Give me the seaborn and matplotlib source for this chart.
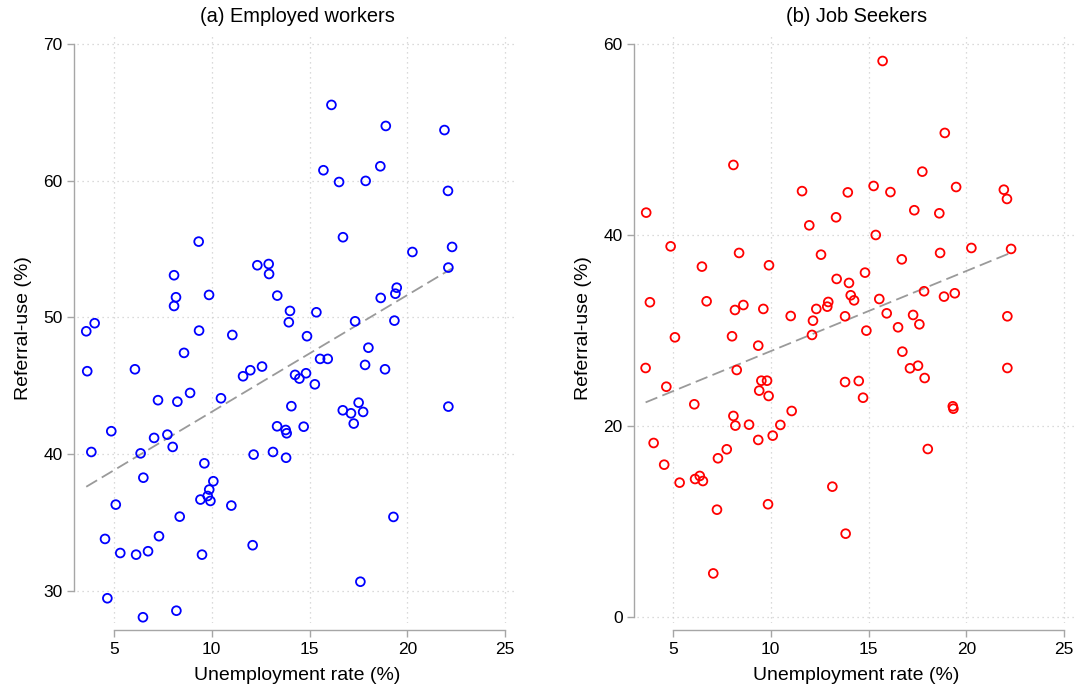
import numpy as np
import pandas as pd
import matplotlib
matplotlib.use("Agg")
import matplotlib.pyplot as plt
import seaborn as sns

# Regional unemployment rate (%) and referral use (%) -- employed workers
emp_unemp = [16.12, 18.90, 21.90, 15.71, 16.51, 17.87, 18.62, 22.08, 9.33, 16.71,
             20.26, 22.29, 22.10, 8.07, 12.33, 12.91, 12.93, 8.17, 8.07, 9.86,
             13.35, 14.00, 13.94, 15.35, 19.46, 19.39, 18.64, 17.33, 19.34, 3.58,
             4.01, 9.35, 11.05, 14.87, 18.01, 8.58, 3.63, 6.07, 15.54, 15.93,
             17.84, 18.86, 12.57, 11.97, 11.60, 14.26, 14.48, 14.82, 15.27, 8.89,
             7.25, 8.24, 10.47, 14.07, 17.51, 16.70, 17.12, 17.74, 17.26, 22.10,
             4.86, 7.05, 7.73, 8.00, 13.34, 13.78, 13.83, 14.70, 3.84, 6.36,
             12.14, 13.13, 13.80, 9.62, 6.50, 10.08, 9.87, 9.79, 9.42, 9.93,
             11.00, 5.09, 8.36, 19.29, 4.54, 7.30, 12.09, 5.32, 6.13, 6.74,
             9.50, 17.60, 4.66, 8.19, 6.48]
emp_referral = [65.54, 64.00, 63.70, 60.76, 59.90, 59.98, 61.05, 59.25, 55.54, 55.86,
                54.78, 55.15, 53.64, 53.08, 53.81, 53.90, 53.17, 51.47, 50.83, 51.64,
                51.59, 50.47, 49.64, 50.37, 52.17, 51.73, 51.42, 49.71, 49.76, 48.98,
                49.57, 49.03, 48.71, 48.62, 47.78, 47.40, 46.06, 46.20, 46.96, 46.96,
                46.52, 46.20, 46.40, 46.13, 45.69, 45.79, 45.52, 45.91, 45.10, 44.47,
                43.94, 43.83, 44.08, 43.50, 43.76, 43.20, 42.98, 43.08, 42.23, 43.47,
                41.67, 41.18, 41.42, 40.52, 42.03, 41.76, 41.52, 42.00, 40.15, 40.05,
                39.96, 40.15, 39.73, 39.32, 38.27, 38.01, 37.40, 36.93, 36.67, 36.57,
                36.23, 36.30, 35.42, 35.40, 33.79, 33.99, 33.33, 32.76, 32.64, 32.89,
                32.64, 30.66, 29.45, 28.54, 28.06]

# Regional unemployment rate (%) and referral use (%) -- job seekers
seek_unemp = [15.72, 18.90, 8.09, 17.75, 15.26, 19.48, 11.60, 13.94, 16.12, 21.92,
              22.08, 3.63, 17.34, 18.62, 13.34, 11.97, 15.37, 4.88, 8.38, 20.26,
              22.29, 12.57, 16.70, 18.66, 6.48, 9.91, 14.82, 13.37, 14.00, 14.09,
              14.26, 17.84, 18.86, 19.41, 3.82, 6.72, 8.17, 8.60, 9.62, 12.94,
              12.89, 12.33, 15.55, 11.02, 12.16, 13.80, 15.93, 17.28, 17.60, 16.51,
              12.11, 14.89, 22.10, 5.10, 8.02, 9.36, 16.73, 3.60, 4.66, 8.26,
              9.52, 9.81, 9.41, 9.89, 13.80, 14.50, 14.72, 17.12, 17.53, 17.87,
              22.10, 6.09, 11.07, 19.31, 19.34, 8.09, 8.19, 8.89, 10.49, 10.10,
              9.36, 4.01, 7.75, 7.30, 18.03, 4.55, 6.13, 6.37, 6.53, 5.34,
              13.15, 7.25, 9.86, 13.83, 7.06]
seek_referral = [58.22, 50.69, 47.34, 46.64, 45.14, 45.03, 44.60, 44.47, 44.50, 44.75,
                 43.78, 42.35, 42.60, 42.28, 41.86, 41.02, 40.01, 38.82, 38.13, 38.65,
                 38.55, 37.95, 37.46, 38.13, 36.70, 36.84, 36.07, 35.41, 34.99, 33.70,
                 33.17, 34.12, 33.56, 33.91, 32.97, 33.07, 32.16, 32.68, 32.27, 33.00,
                 32.51, 32.27, 33.31, 31.53, 31.04, 31.50, 31.81, 31.64, 30.66, 30.35,
                 29.55, 30.00, 31.50, 29.30, 29.41, 28.43, 27.80, 26.09, 24.13, 25.88,
                 24.76, 24.76, 23.72, 23.16, 24.62, 24.73, 22.98, 26.06, 26.33, 25.04,
                 26.09, 22.29, 21.59, 22.08, 21.83, 21.07, 20.06, 20.16, 20.13, 19.01,
                 18.56, 18.24, 17.58, 16.64, 17.61, 15.97, 14.47, 14.79, 14.26, 14.09,
                 13.67, 11.26, 11.83, 8.75, 4.59]

x_ticks = [5, 10, 15, 20, 25]
emp_yticks = [30, 40, 50, 60, 70]
seek_yticks = [0, 20, 40, 60]

panel_titles = ["(a) Employed workers", "(b) Job Seekers"]
x_label = "Unemployment rate (%)"
y_label = "Referral-use (%)"

sns.set_style("white")
plt.rcParams["font.family"] = ["Liberation Sans", "DejaVu Sans"]
plt.rcParams["text.color"] = "black"
plt.rcParams["axes.labelcolor"] = "black"

W, H = 1076, 690
fig = plt.figure(figsize=(W / 100, H / 100), dpi=100)


def px_axes(left, right, top, bottom):
    return fig.add_axes([left / W, 1 - bottom / H, (right - left) / W, (bottom - top) / H])


spine_grey = "#a6a6a6"
grid_grey = "#cfcfcf"

panels = [
    dict(ax=px_axes(77, 517, 33, 623), x=emp_unemp, y=emp_referral, color="#0000ff",
         yticks=emp_yticks, xlim=(3.107, 25.61), ylim=(27.64, 70.80), title=panel_titles[0]),
    dict(ax=px_axes(637, 1076, 33, 623), x=seek_unemp, y=seek_referral, color="#ff0000",
         yticks=seek_yticks, xlim=(3.16, 25.61), ylim=(-0.6, 61.15), title=panel_titles[1]),
]

for p in panels:
    ax = p["ax"]
    df = pd.DataFrame({"unemp": p["x"], "referral": p["y"]})
    sns.regplot(data=df, x="unemp", y="referral", ax=ax, ci=None, color=p["color"],
                scatter_kws=dict(s=40, facecolors="none", edgecolors=p["color"],
                                 linewidths=1.3, alpha=1.0, zorder=3),
                line_kws=dict(color="#9a9a9a", lw=1.3, dashes=(7, 3), zorder=2))
    ax.set_xlim(*p["xlim"])
    ax.set_ylim(*p["ylim"])
    ax.set_xticks(x_ticks)
    ax.set_yticks(p["yticks"])
    ax.grid(True, color=grid_grey, linestyle=(0, (1, 3)), linewidth=0.9)
    ax.set_axisbelow(True)
    for side in ("top", "right"):
        ax.spines[side].set_visible(False)
    ax.spines["left"].set_position(("outward", 2.2))
    ax.spines["bottom"].set_position(("outward", 5))
    ax.spines["left"].set_bounds(min(p["yticks"]), max(p["yticks"]))
    ax.spines["bottom"].set_bounds(min(x_ticks), max(x_ticks))
    for side in ("left", "bottom"):
        ax.spines[side].set_color(spine_grey)
        ax.spines[side].set_linewidth(1.0)
    ax.tick_params(axis="both", direction="out", length=5, width=1.0, color=spine_grey,
                   labelsize=12.5, labelcolor="black", bottom=True, left=True)
    ax.tick_params(axis="y", pad=3)
    ax.tick_params(axis="x", pad=4)
    ax.set_xlabel(x_label, fontsize=14, labelpad=7, color="black")
    ax.set_ylabel(y_label, fontsize=14, labelpad=8, color="black")
    ax.set_title(p["title"], fontsize=14.4, pad=8, color="black")

fig.savefig("out.png", dpi=100)
